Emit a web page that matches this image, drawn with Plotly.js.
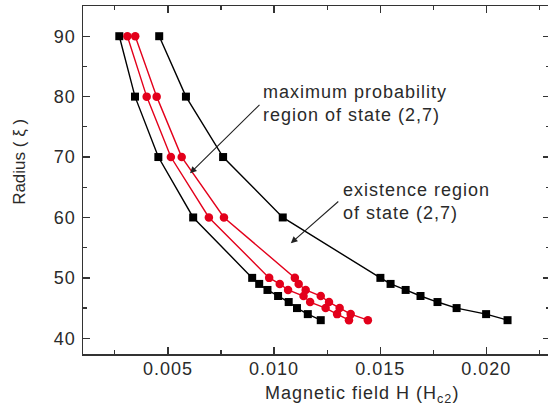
<!DOCTYPE html>
<html>
<head>
<meta charset="utf-8">
<script src="https://cdn.plot.ly/plotly-3.0.1.min.js"></script>
<style>html,body{margin:0;padding:0;overflow:hidden;background:#fff;}</style>
</head>
<body>
<div id="chart" style="width:552px;height:413px;"></div>
<script>
// Existence region boundaries (black squares)
const radiusExist = [90, 80, 70, 60, 50, 49, 48, 47, 46, 45, 44, 43];
const hExistLow  = [0.00271, 0.00345, 0.00455, 0.00619, 0.00897, 0.0093, 0.00969, 0.01019, 0.01069, 0.01108, 0.01159, 0.0122];
const hExistHigh = [0.00459, 0.00585, 0.0076, 0.01041, 0.01501, 0.01549, 0.0162, 0.0169, 0.0177, 0.0186, 0.01999, 0.0210];
// Maximum probability region boundaries (red circles)
const radiusProb = [90, 80, 70, 60, 50, 49, 48, 47, 46, 45, 44, 43];
const hProbLow  = [0.00309, 0.0040, 0.00514, 0.00693, 0.00977, 0.01027, 0.01066, 0.01139, 0.0117, 0.01243, 0.01297, 0.01353];
const hProbHigh = [0.00346, 0.00447, 0.00565, 0.00764, 0.01098, 0.01116, 0.01149, 0.0122, 0.01259, 0.01309, 0.01361, 0.01442];

const black = '#000000';
const red = '#e3001b';
const font = 'Liberation Sans, Arial, sans-serif';
const txt = '#2a2a2a';

function sq(x, y) {
  return {x: x, y: y, type: 'scatter', mode: 'lines+markers',
    line: {color: black, width: 1.4},
    marker: {symbol: 'square', size: 8, color: black},
    hoverinfo: 'skip', showlegend: false};
}
function circ(x, y) {
  return {x: x, y: y, type: 'scatter', mode: 'lines+markers',
    line: {color: red, width: 1.4},
    marker: {symbol: 'circle', size: 8.5, color: red},
    hoverinfo: 'skip', showlegend: false};
}

const data = [
  sq(hExistLow, radiusExist),
  sq(hExistHigh, radiusExist),
  circ(hProbLow, radiusProb),
  circ(hProbHigh, radiusProb)
];

const axisCommon = {
  showgrid: false, zeroline: false, showline: true, mirror: 'ticks',
  linecolor: '#333', linewidth: 1.5,
  ticks: 'inside', ticklen: 7, tickwidth: 1.3, tickcolor: '#333',
  tickfont: {family: font, size: 18, color: txt}
};

const layout = {
  width: 552, height: 413,
  margin: {l: 83, r: 2, t: 6, b: 59},
  paper_bgcolor: '#fff', plot_bgcolor: '#fff',
  xaxis: Object.assign({}, axisCommon, {
    range: [0.001, 0.023], tick0: 0, dtick: 0.005, tickformat: '.3f',
    ticklabelstandoff: -2,
    minor: {dtick: 0.0025, ticks: 'inside', ticklen: 4, tickcolor: '#333', tickwidth: 1.2}
  }),
  yaxis: Object.assign({}, axisCommon, {
    range: [37.4, 95], tick0: 0, dtick: 10,
    ticklabelstandoff: 2,
    minor: {dtick: 5, ticks: 'inside', ticklen: 4, tickcolor: '#333', tickwidth: 1.2}
  }),
  annotations: [
    {xref: 'paper', yref: 'paper', x: 0.597, y: -0.115, xanchor: 'center', yanchor: 'middle',
     text: 'Magnetic field H (H<sub>c2</sub>)', showarrow: false,
     font: {family: font, size: 18, color: txt}},
    {xref: 'paper', yref: 'paper', x: -0.135, y: 0.552, xanchor: 'center', yanchor: 'middle',
     text: 'Radius ( ξ )', textangle: -90, showarrow: false,
     font: {family: font, size: 17, color: txt}},
    {xref: 'x', yref: 'y', x: 0.00938, y: 78.83, xanchor: 'left', yanchor: 'middle',
     text: 'maximum probability<br>region of state (2,7)', align: 'left', showarrow: false,
     font: {family: font, size: 18, color: txt}},
    {xref: 'x', yref: 'y', x: 0.01314, y: 62.56, xanchor: 'left', yanchor: 'middle',
     text: 'existence region<br>of state (2,7)', align: 'left', showarrow: false,
     font: {family: font, size: 18, color: txt}},
    {xref: 'x', yref: 'y', x: 0.00604, y: 67.3, ax: 71, ay: -70, text: '',
     showarrow: true, arrowhead: 2, arrowsize: 1.2, arrowwidth: 1.1, arrowcolor: '#222'},
    {xref: 'x', yref: 'y', x: 0.01079, y: 55.74, ax: 49, ay: -43, text: '',
     showarrow: true, arrowhead: 2, arrowsize: 1.2, arrowwidth: 1.1, arrowcolor: '#222'}
  ]
};

Plotly.newPlot('chart', data, layout, {displayModeBar: false, staticPlot: true}).then(function () {
  // The reference text is horizontally wide: add a little tracking to horizontal texts.
  document.querySelectorAll('#chart text').forEach(function (t) {
    if (t.textContent.indexOf('Radius') === -1) t.style.letterSpacing = '1px';
  });
});
</script>
</body>
</html>
